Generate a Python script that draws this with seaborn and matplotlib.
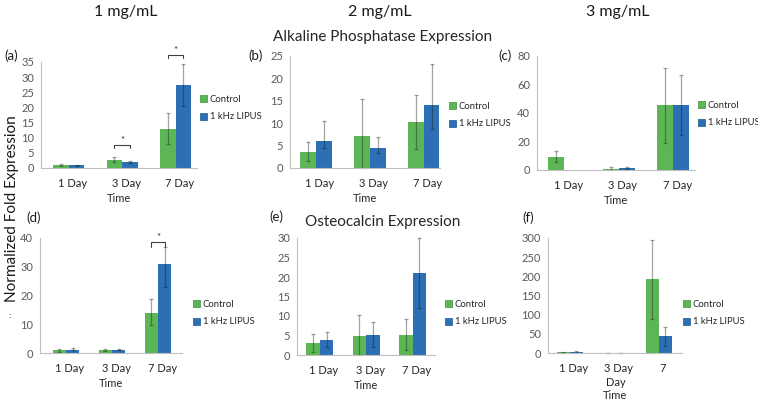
import matplotlib
matplotlib.use("Agg")
import matplotlib.pyplot as plt
import matplotlib.transforms as mtransforms
from matplotlib.patches import Patch
from matplotlib.container import BarContainer
import seaborn as sns
import pandas as pd
import numpy as np

# categories
days = ["1 Day", "3 Day", "7 Day"]
groups = ["Control", "1 kHz LIPUS"]
f_ticklabels = ["1 Day", "3 Day", "7"]

# (a) ALP 1 mg/mL : bar value, lower whisker, upper whisker
a_ctrl = [0.9, 2.7, 12.9]
a_ctrl_lo = [0.6, 2.0, 7.9]
a_ctrl_hi = [1.3, 3.5, 18.0]
a_lipus = [0.9, 2.0, 27.5]
a_lipus_lo = [0.7, 1.8, 20.5]
a_lipus_hi = [1.1, 2.3, 34.4]

# (b) ALP 2 mg/mL
b_ctrl = [3.5, 7.2, 10.3]
b_ctrl_lo = [1.5, 0.0, 4.3]
b_ctrl_hi = [5.7, 15.3, 16.4]
b_lipus = [6.1, 4.4, 14.1]
b_lipus_lo = [4.5, 3.3, 8.8]
b_lipus_hi = [10.5, 7.0, 23.3]

# (c) ALP 3 mg/mL (no LIPUS bar at day 1)
c_ctrl = [8.9, 1.0, 45.4]
c_ctrl_lo = [5.8, 0.2, 19.2]
c_ctrl_hi = [13.3, 2.0, 71.8]
c_lipus = [0.0, 1.2, 45.4]
c_lipus_lo = [0.0, 0.5, 24.6]
c_lipus_hi = [0.0, 2.0, 66.7]

# (d) OCN 1 mg/mL
d_ctrl = [1.0, 1.0, 14.0]
d_ctrl_lo = [0.5, 0.6, 9.6]
d_ctrl_hi = [1.5, 1.4, 18.7]
d_lipus = [1.2, 1.2, 30.9]
d_lipus_lo = [0.9, 1.0, 23.0]
d_lipus_hi = [1.6, 1.4, 36.9]

# (e) OCN 2 mg/mL
e_ctrl = [3.0, 4.9, 5.2]
e_ctrl_lo = [0.7, 0.0, 1.3]
e_ctrl_hi = [5.3, 10.2, 9.2]
e_lipus = [3.85, 5.2, 20.9]
e_lipus_lo = [2.1, 2.1, 12.0]
e_lipus_hi = [5.8, 8.4, 29.9]

# (f) OCN 3 mg/mL
f_ctrl = [1.5, 0.5, 192.0]
f_ctrl_lo = [0.5, 0.0, 90.0]
f_ctrl_hi = [2.5, 1.0, 296.0]
f_lipus = [2.0, 0.5, 44.0]
f_lipus_lo = [0.5, 0.0, 18.0]
f_lipus_hi = [4.0, 1.0, 68.0]

# significance brackets: (category index, bracket height)
a_sig = [(1, 7.6), (2, 37.3)]
d_sig = [(2, 38.6)]

green = "#5db655"
blue = "#2c6fb4"
grey_txt = "#595959"
axis_col = "#bfbfbf"

sns.set_style("white")
plt.rcParams["font.family"] = ["Lato", "DejaVu Sans"]

W, H = 758, 404
fig = plt.figure(figsize=(W / 100, H / 100), dpi=100)


def fig_xy(px, py):
    return px / W, 1 - py / H


def make_ax(x0, x1, ytop, y0):
    return fig.add_axes([x0 / W, 1 - y0 / H, (x1 - x0) / W, (y0 - ytop) / H])


def draw_panel(ax, ctrl, ctrl_lo, ctrl_hi, lipus, lipus_lo, lipus_hi,
               ymax, ystep, xlim, leg_xy, ticklabels=None, sig=None,
               sig_leg=1.0, xlabelpad=3):
    df = pd.DataFrame({
        "day": days * 2,
        "group": [groups[0]] * 3 + [groups[1]] * 3,
        "value": ctrl + lipus,
    })
    sns.barplot(data=df, x="day", y="value", hue="group", order=days,
                hue_order=groups, palette=[green, blue], width=0.58,
                errorbar=None, saturation=1, legend=False, ax=ax,
                linewidth=0.0)

    vals = [ctrl, lipus]
    los = [ctrl_lo, lipus_lo]
    his = [ctrl_hi, lipus_hi]
    bars = [c for c in ax.containers if isinstance(c, BarContainer)]
    centers = []
    for h, cont in enumerate(bars):
        row = []
        for i, p in enumerate(cont.patches):
            x = p.get_x() + p.get_width() / 2
            row.append(x)
            v, lo, hi = vals[h][i], los[h][i], his[h][i]
            if hi - lo <= 0:
                continue
            ax.errorbar([x], [v], yerr=[[v - lo], [hi - v]], fmt="none",
                        ecolor="#1a1a1a", alpha=0.4, elinewidth=0.9,
                        capsize=1.6, capthick=0.9, clip_on=False)
        centers.append(row)

    if sig:
        for i, yb in sig:
            xl, xr = centers[0][i], centers[1][i]
            ax.plot([xl, xl, xr, xr], [yb - sig_leg, yb, yb, yb - sig_leg],
                    color="#404040", lw=0.8, clip_on=False)
            ax.text((xl + xr) / 2, yb + sig_leg * 0.1, "*", ha="center",
                    va="bottom", fontsize=7, color="#262626", clip_on=False)

    ax.set_ylim(0, ymax)
    ax.set_yticks(np.arange(0, ymax + ystep / 2, ystep))
    ax.set_xlim(*xlim)
    if ticklabels is not None:
        ax.set_xticks(range(3))
        ax.set_xticklabels(ticklabels)
    ax.set_xlabel("Time", fontsize=8, color="#262626", labelpad=xlabelpad)
    ax.set_ylabel("")
    ax.tick_params(axis="y", length=3, width=0.8, color=axis_col,
                   labelsize=8, labelcolor=grey_txt, pad=2)
    ax.tick_params(axis="x", length=0, labelsize=8, labelcolor="#262626",
                   pad=7)
    shift = mtransforms.ScaledTranslation(4 / 100, 0, fig.dpi_scale_trans)
    for lbl in ax.get_xticklabels():
        lbl.set_transform(lbl.get_transform() + shift)
    for s in ["top", "right"]:
        ax.spines[s].set_visible(False)
    for s in ["left", "bottom"]:
        ax.spines[s].set_color(axis_col)
        ax.spines[s].set_linewidth(0.8)

    handles = [Patch(facecolor=green, edgecolor="#3f8f3a", lw=0.5),
               Patch(facecolor=blue, edgecolor="#1f5590", lw=0.5)]
    ax.legend(handles, groups, loc="center left",
              bbox_to_anchor=fig_xy(*leg_xy), bbox_transform=fig.transFigure,
              frameon=False, fontsize=6.8, handlelength=0.75,
              handleheight=0.75, handletextpad=0.3, labelspacing=0.95,
              borderpad=0, borderaxespad=0)


ax_a = make_ax(41, 197, 62, 168)
draw_panel(ax_a, a_ctrl, a_ctrl_lo, a_ctrl_hi, a_lipus, a_lipus_lo, a_lipus_hi,
           35, 5, (-0.52, 2.40), (200, 108), sig=a_sig, sig_leg=1.0)

ax_b = make_ax(290, 440, 56, 168)
draw_panel(ax_b, b_ctrl, b_ctrl_lo, b_ctrl_hi, b_lipus, b_lipus_lo, b_lipus_hi,
           25, 5, (-0.48, 2.30), (449, 115))

ax_c = make_ax(537, 695, 56, 170)
draw_panel(ax_c, c_ctrl, c_ctrl_lo, c_ctrl_hi, c_lipus, c_lipus_lo, c_lipus_hi,
           80, 20, (-0.50, 2.40), (698, 114))

ax_d = make_ax(40, 182, 238, 353)
draw_panel(ax_d, d_ctrl, d_ctrl_lo, d_ctrl_hi, d_lipus, d_lipus_lo, d_lipus_hi,
           40, 10, (-0.565, 2.52), (193, 313), sig=d_sig, sig_leg=1.6)

ax_e = make_ax(297, 435, 238, 355)
draw_panel(ax_e, e_ctrl, e_ctrl_lo, e_ctrl_hi, e_lipus, e_lipus_lo, e_lipus_hi,
           30, 5, (-0.49, 2.48), (445, 313))

ax_f = make_ax(548, 682, 238, 353)
draw_panel(ax_f, f_ctrl, f_ctrl_lo, f_ctrl_hi, f_lipus, f_lipus_lo, f_lipus_hi,
           300, 50, (-0.49, 2.52), (683, 313), ticklabels=f_ticklabels,
           xlabelpad=12)
fig.text(*fig_xy(616, 382), "Day", ha="center", va="center", fontsize=8,
         color="#262626")

# column headers and titles
for txt, px in zip(["1 mg/mL", "2 mg/mL", "3 mg/mL"], [126, 380, 618]):
    fig.text(*fig_xy(px, 12), txt, ha="center", va="center", fontsize=11.5,
             color="#1a1a1a")
fig.text(*fig_xy(383, 37), "Alkaline Phosphatase Expression", ha="center",
         va="center", fontsize=11, color="#262626")
fig.text(*fig_xy(383, 222), "Osteocalcin Expression", ha="center",
         va="center", fontsize=11, color="#262626")

# panel letters
for lab, px, py in [("(a)", 11, 56), ("(b)", 256, 56), ("(c)", 505, 56),
                    ("(d)", 34, 218), ("(e)", 276, 217), ("(f)", 528, 218)]:
    fig.text(*fig_xy(px, py), lab, ha="center", va="center", fontsize=9.5,
             color="#1a1a1a")

fig.text(*fig_xy(12, 209), "Normalized Fold Expression", rotation=90,
         ha="center", va="center", fontsize=11, color="#1a1a1a")
fig.text(*fig_xy(10, 315), ":", ha="center", va="center", fontsize=6,
         color="#404040")

fig.savefig("out.png", dpi=100)
